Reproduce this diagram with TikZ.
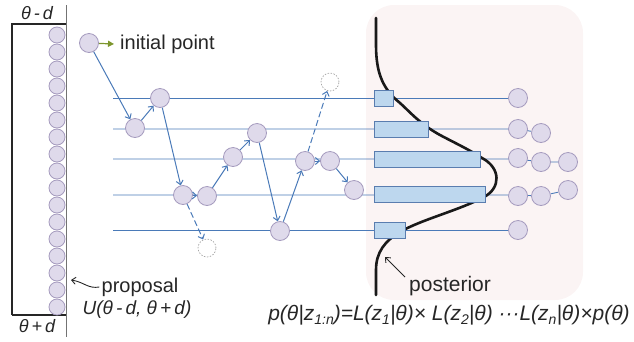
\documentclass[tikz,border=0pt]{standalone}
\usepackage{fontspec}
\setmainfont{Liberation Sans}
\usetikzlibrary{arrows.meta}
\definecolor{ptfill}{RGB}{223,218,235}
\definecolor{ptedge}{RGB}{165,155,190}
\definecolor{lineblue}{RGB}{74,122,184}
\definecolor{barfill}{RGB}{189,215,238}
\definecolor{baredge}{RGB}{90,125,175}
\definecolor{pinkbg}{RGB}{251,244,244}
\definecolor{olivegreen}{RGB}{125,150,45}
\newcommand\sbs[1]{\raisebox{-0.35ex}{\fontsize{14}{14}\selectfont #1}}
\pgfdeclarelayer{bg}
\pgfdeclarelayer{lines}
\pgfsetlayers{bg,lines,main}
\tikzset{
  pt/.style={circle, draw=ptedge, fill=ptfill, minimum size=19pt, inner sep=0pt, line width=0.8pt},
  colpt/.style={pt, minimum size=16pt},
  ghost/.style={circle, draw=gray!70, dash pattern=on 1.5pt off 1.5pt, fill=white, minimum size=18pt, inner sep=0pt, line width=0.7pt},
  barbox/.style={rectangle, draw=baredge, fill=barfill, minimum height=16pt, inner sep=0pt, anchor=west, line width=0.8pt},
  hline/.style={draw=lineblue, line width=0.9pt},
  move/.style={draw=lineblue, line width=1pt, -{Straight Barb[length=4pt,width=7pt]}},
  dmove/.style={move, dash pattern=on 6pt off 3pt},
  lbl/.style={inner sep=0pt, text=black!85, font=\fontsize{19}{21}\selectfont},
}
\begin{document}
\begin{tikzpicture}[x=1pt,y=-1pt]
\useasboundingbox (0,0) rectangle (634,341);
% pink background
\begin{pgfonlayer}{bg}
\fill[pinkbg] (366,5) [rounded corners=28pt] rectangle (583,300);
\end{pgfonlayer}
% left proposal box
\draw[black!85, line width=1.4pt] (12,315) -- (12,24) -- (66,24);
\draw[black!85, line width=1.4pt] (12,315) -- (66,315);
\draw[black!55, line width=0.8pt] (66,5) -- (66,337);
\node[lbl, font=\itshape\fontsize{18}{20}\selectfont] (tmd) at (37,13) {θ\,-\,d};
\node[lbl, font=\itshape\fontsize{18}{20}\selectfont] (tpd) at (37,326) {θ\,+\,d};
\foreach \i in {0,...,16} {
  \node[colpt] (p\i) at (57,{35+17*\i}) {};
}
% initial point
\node[pt] (init) at (89,43) {};
\node[lbl, anchor=west, font=\fontsize{20}{22}\selectfont] (initlbl) at (120,44) {initial point};
\draw[olivegreen, line width=1.2pt, -{Triangle[length=6pt,width=6pt]}] (init) -- ([xshift=-6pt]initlbl.west);
% line start coordinates
\coordinate (s1) at (113,98);
\coordinate (s2) at (113,129);
\coordinate (s3) at (113,159);
\coordinate (s4) at (113,195);
\coordinate (s5) at (113,230);
% right circles
\node[pt] (r1) at (518,98) {};
\node[pt] (r2a) at (518,129) {};
\node[pt] (r2b) at (541,133) {};
\node[pt] (r3a) at (518,158) {};
\node[pt] (r3b) at (541,162) {};
\node[pt] (r3c) at (568,162) {};
\node[pt] (r4a) at (518,196) {};
\node[pt] (r4b) at (541,196) {};
\node[pt] (r4c) at (568,190) {};
\node[pt] (r5) at (518,230) {};
% bars
\node[barbox, minimum width=19pt] (b1) at (374,98) {};
\node[barbox, minimum width=54pt] (b2) at (374,129) {};
\node[barbox, minimum width=106pt] (b3) at (374,159) {};
\node[barbox, minimum width=111pt] (b4) at (374,194) {};
\node[barbox, minimum width=31pt] (b5) at (374,230) {};
% horizontal lines
\begin{pgfonlayer}{lines}
\path[hline] (s1) -- (r1);
\path[hline] (s2) -- (s2 -| r2a) -- (r2b);
\path[hline] (s3) -- (s3 -| r3a) -- (r3b) -- (r3c);
\path[hline] (s4) -- (s4 -| r4a) -- (r4b) -- (r4c);
\path[hline] (s5) -- (r5);
% posterior curve
\draw[black!90, line width=2.6pt, line cap=round]
  (376,18) -- (376,45) .. controls (376,75) and (384,90) .. (400,103)
  .. controls (410,112) and (420,124) .. (440,135)
  .. controls (455,143) and (470,150) .. (482,158)
  .. controls (501,168) and (501,188) .. (484,197)
  .. controls (460,210) and (420,220) .. (400,232)
  .. controls (385,241) and (376,252) .. (376,270) -- (376,295);
\end{pgfonlayer}
% path nodes
\node[pt] (A) at (135,128) {};
\node[pt] (B) at (160,98) {};
\node[pt] (C) at (183,195) {};
\node[pt] (D) at (207,196) {};
\node[ghost] (E) at (207,248) {};
\node[pt] (F) at (233,157) {};
\node[pt] (G) at (257,133) {};
\node[pt] (H) at (280,231) {};
\node[pt] (I) at (305,161) {};
\node[pt] (J) at (330,161) {};
\node[ghost] (K) at (330,82) {};
\node[pt] (L) at (354,190) {};
% moves
\draw[move] (init) -- (A);
\draw[move] (A) -- (B);
\draw[move] (B) -- (C);
\draw[move] (C) -- (D);
\draw[dmove] (C) -- (E);
\draw[move] (D) -- (F);
\draw[move] (F) -- (G);
\draw[move] (G) -- (H);
\draw[move] (H) -- (I);
\draw[move] (I) -- (J);
\draw[dmove] (I) -- (K);
\draw[move] (J) -- (L);
% labels
\node[lbl, font=\fontsize{20}{22}\selectfont] (prop) at (140,287) {proposal};
\node[lbl, font=\itshape\fontsize{19}{21}\selectfont] (unif) at (137,310) {U(θ\,-\,d, θ\,+\,d)};
\coordinate (ptip) at (71,280);
\draw[black!85, line width=0.9pt, -{Straight Barb[length=4pt,width=7pt]}]
  ([xshift=-2pt]prop.west) .. controls (88,289) and (84,282) .. (ptip);
\node[lbl, font=\fontsize{21}{23}\selectfont] (post) at (450,286) {posterior};
\coordinate (postip) at (385,257);
\draw[black!85, line width=0.9pt, -{Straight Barb[length=4pt,width=7pt]}]
  (405,277) -- (postip);
\node[lbl, font=\itshape\fontsize{21}{23}\selectfont] (formula) at (449,315)
  {p(θ|z\sbs{1:n})=L(z\sbs{1}|θ)× L(z\sbs{2}|θ) ···L(z\sbs{n}|θ)×p(θ)};
\end{tikzpicture}
\end{document}
